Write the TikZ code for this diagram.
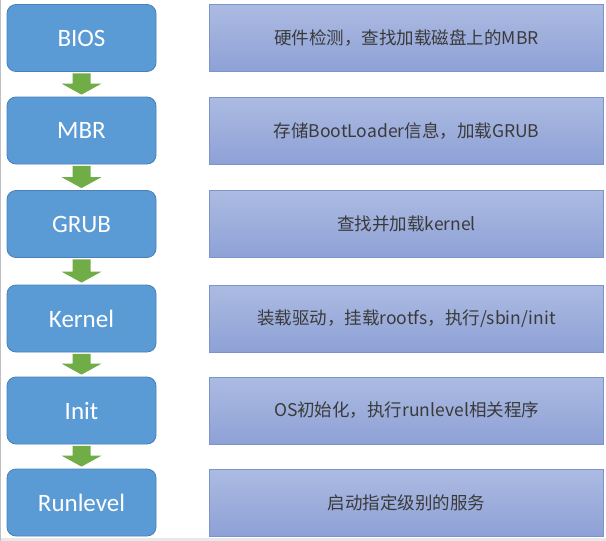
\documentclass[tikz,border=0pt]{standalone}
\usepackage{fontspec}
\setmainfont{Carlito}
\newfontfamily\cjk{Noto Sans CJK SC}
\usetikzlibrary{calc}
\definecolor{stepblue}{HTML}{5B9BD5}
\definecolor{stepborder}{HTML}{4A80B8}
\definecolor{desctop}{HTML}{ACBBE2}
\definecolor{descbot}{HTML}{8EA1D6}
\definecolor{descborder}{HTML}{7F93CB}
\definecolor{desctext}{HTML}{3A3A3A}
\definecolor{arrowgreen}{HTML}{70AD47}
\tikzset{
  stepbox/.style={draw=stepborder, line width=0.8pt, fill=stepblue, rounded corners=9pt,
    minimum width=149pt, minimum height=67pt, text=white, font=\fontsize{25}{27}\selectfont, inner sep=0pt},
  descbox/.style={draw=descborder, line width=0.8pt, top color=desctop, bottom color=descbot,
    minimum width=394pt, minimum height=67pt, text=desctext, font=\fontsize{17.5}{19}\selectfont\cjk, inner sep=0pt},
  greenarrow/.style={fill=arrowgreen, draw=none}
}
\begin{document}
\begin{tikzpicture}[x=1pt,y=-1pt]
\useasboundingbox (0,0) rectangle (606,541);
\fill[white] (0,0) rectangle (606,541);
\fill[black!9] (0,537.5) rectangle (606,541);
\draw[black!25, line width=1pt] (0.5,0) -- (0.5,541);
\foreach \name/\lab/\desc/\y in {
  bios/BIOS/{硬件检测，查找加载磁盘上的MBR}/38,
  mbr/MBR/{存储BootLoader信息，加载GRUB}/130.5,
  grub/GRUB/{查找并加载kernel}/224,
  kernel/Kernel/{装载驱动，挂载rootfs，执行/sbin/init}/318.5,
  init/Init/{OS初始化，执行runlevel相关程序}/410.5,
  run/Runlevel/{启动指定级别的服务}/502.5} {
  \node[stepbox] (\name) at (81.5,\y) {\lab};
  \node[descbox] (\name d) at (406.5,\y) {\desc};
}
\foreach \a/\b in {bios/mbr, mbr/grub, grub/kernel, kernel/init, init/run} {
  \coordinate (\a top) at ($(\a.south)+(0,1.5)$);
  \coordinate (\a tip) at ($(\b.north)+(0,-2)$);
  \fill[greenarrow] ($(\a top)+(-9,0)$) -- ($(\a top)+(9,0)$)
    -- ($(\a tip)+(9,-11)$) -- ($(\a tip)+(20,-11)$) -- (\a tip)
    -- ($(\a tip)+(-20,-11)$) -- ($(\a tip)+(-9,-11)$) -- cycle;
}
\end{tikzpicture}
\end{document}
